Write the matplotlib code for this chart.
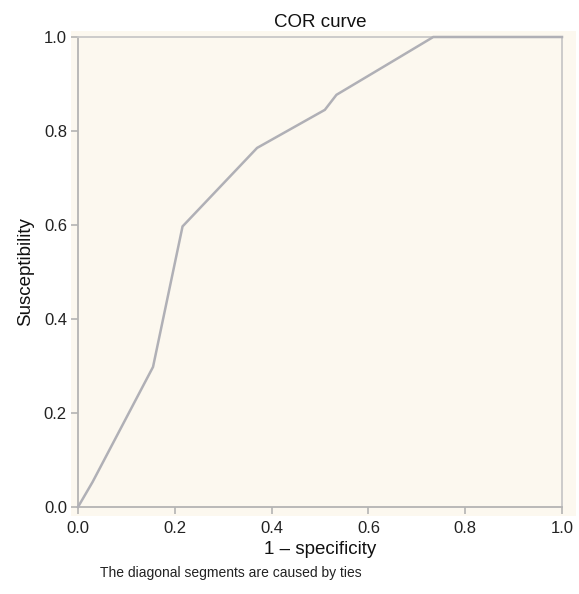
import matplotlib.pyplot as plt
from matplotlib.patches import Rectangle

# ROC points (1 - specificity, susceptibility)
fpr = [0.0, 0.03, 0.155, 0.216, 0.37, 0.51, 0.534, 0.648, 0.734, 1.0]
tpr = [0.0, 0.053, 0.298, 0.597, 0.764, 0.845, 0.877, 0.947, 1.0, 1.0]
ticks = [0.0, 0.2, 0.4, 0.6, 0.8, 1.0]

plt.rcParams['font.family'] = ['Liberation Sans', 'DejaVu Sans']

cream = '#fcf8ef'
fig = plt.figure(figsize=(5.79, 5.94), dpi=100)

# background panel is a bit larger than the axes box
fig.patches.append(Rectangle((71 / 579, 1 - 516 / 594), (576 - 71) / 579, (516 - 31) / 594,
                             transform=fig.transFigure, facecolor=cream, edgecolor='none', zorder=-5))

ax = fig.add_axes([78 / 579, 1 - 507 / 594, (562 - 78) / 579, (507 - 37) / 594])
ax.set_facecolor(cream)
ax.plot(fpr, tpr, color='#b0b0b6', linewidth=1.8, solid_joinstyle='miter', zorder=3, clip_on=False)

ax.set_xlim(0, 1)
ax.set_ylim(0, 1)
ax.set_xticks(ticks)
ax.set_yticks(ticks)
ax.set_xticklabels([f'{t:.1f}' for t in ticks])
ax.set_yticklabels([f'{t:.1f}' for t in ticks])

for side in ['left', 'bottom']:
    ax.spines[side].set_color('#b4b4b4')
    ax.spines[side].set_linewidth(1.3)
for side in ['top', 'right']:
    ax.spines[side].set_color('#c8c8c8')
    ax.spines[side].set_linewidth(1.3)

ax.tick_params(direction='out', length=5, width=1.2, color='#b4b4b4',
               labelsize=12, labelcolor='#222222')
ax.tick_params(axis='x', pad=5)
ax.tick_params(axis='y', pad=3)

ax.set_title('COR curve', fontsize=13.5, color='#111111', pad=7)
ax.set_xlabel('1 – specificity', fontsize=13.5, color='#111111', labelpad=4)
ax.set_ylabel('Susceptibility', fontsize=13.5, color='#111111', labelpad=7)

fig.text(100 / 579, 1 - 573 / 594, 'The diagonal segments are caused by ties',
         fontsize=10, color='#222222', va='center', ha='left')

fig.savefig('out.png', dpi=100)
